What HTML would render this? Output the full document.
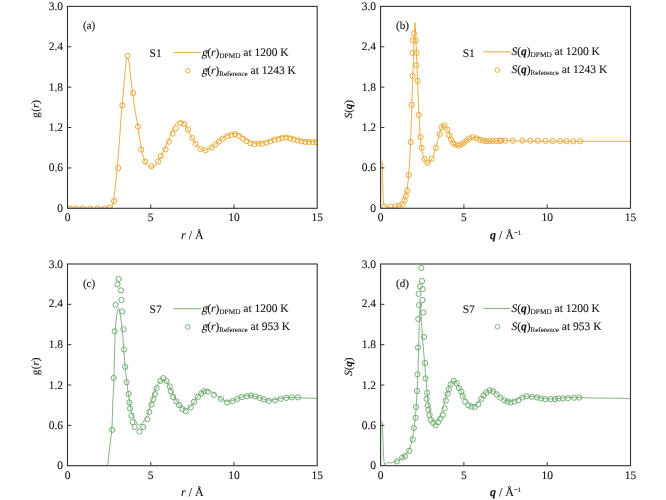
<!DOCTYPE html><html><head><meta charset="utf-8"><style>html,body{margin:0;padding:0;background:#fff;}svg{display:block;}text{font-family:"Liberation Serif",serif;fill:#111;text-rendering:geometricPrecision;stroke:#111;stroke-width:0.1px;}</style></head><body>
<svg width="666" height="500" viewBox="0 0 666 500">
<rect width="666" height="500" fill="#fff"/>
<clipPath id="cla"><rect x="67.5" y="6.4" width="249.7" height="201.9"/></clipPath>
<g clip-path="url(#cla)">
<polyline points="67.5,208.0 111.5,208.0 112.5,206.5 113.6,201.0 115.5,185.0 117.2,168.0 118.6,152.0 119.8,136.0 121.0,118.0 122.4,103.0 124.0,84.0 125.5,67.0 126.5,60.0 127.3,57.5 128.2,58.5 129.2,63.0 130.2,72.0 131.3,82.0 132.6,93.0 135.0,110.0 137.5,124.0 139.5,138.0 141.2,148.0 143.5,157.5 146.0,163.5 149.0,166.5 152.0,167.2 155.0,166.0 158.0,162.0 161.0,156.0 164.0,150.5 167.0,144.0 170.0,136.5 172.5,130.0 175.0,125.0 177.5,122.0 180.0,121.0 182.5,121.8 185.0,124.5 188.0,130.0 191.0,136.0 194.0,141.5 197.0,145.5 200.0,148.5 203.0,150.0 206.0,150.0 209.0,149.0 212.0,147.0 216.0,143.5 220.0,140.0 224.0,137.0 228.0,135.0 232.0,133.5 235.0,133.3 238.0,134.0 242.0,136.3 246.0,139.3 250.0,141.8 254.0,143.0 258.0,143.3 262.0,143.0 266.0,142.0 270.0,140.5 274.0,139.0 278.0,137.8 282.0,136.8 286.0,136.3 290.0,136.8 294.0,138.0 298.0,139.3 302.0,140.3 306.0,141.0 310.0,141.2 317.2,141.3" fill="none" stroke="#ebb04a" stroke-width="1.0" stroke-linejoin="round"/>
<circle cx="70.0" cy="208.4" r="2.6" fill="none" stroke="#eca936" stroke-width="1"/>
<circle cx="76.0" cy="208.4" r="2.6" fill="none" stroke="#eca936" stroke-width="1"/>
<circle cx="82.8" cy="208.4" r="2.6" fill="none" stroke="#eca936" stroke-width="1"/>
<circle cx="90.2" cy="208.4" r="2.6" fill="none" stroke="#eca936" stroke-width="1"/>
<circle cx="97.8" cy="208.4" r="2.6" fill="none" stroke="#eca936" stroke-width="1"/>
<circle cx="104.6" cy="208.4" r="2.6" fill="none" stroke="#eca936" stroke-width="1"/>
<circle cx="109.8" cy="207.6" r="2.6" fill="none" stroke="#eca936" stroke-width="1"/>
<circle cx="114.0" cy="201.0" r="2.6" fill="none" stroke="#eca936" stroke-width="1"/>
<circle cx="118.2" cy="168.0" r="2.6" fill="none" stroke="#eca936" stroke-width="1"/>
<circle cx="122.4" cy="105.4" r="2.6" fill="none" stroke="#eca936" stroke-width="1"/>
<circle cx="127.6" cy="55.8" r="2.6" fill="none" stroke="#eca936" stroke-width="1"/>
<circle cx="133.2" cy="93.0" r="2.6" fill="none" stroke="#eca936" stroke-width="1"/>
<circle cx="137.9" cy="126.6" r="2.6" fill="none" stroke="#eca936" stroke-width="1"/>
<circle cx="141.2" cy="149.6" r="2.6" fill="none" stroke="#eca936" stroke-width="1"/>
<circle cx="145.1" cy="161.6" r="2.6" fill="none" stroke="#eca936" stroke-width="1"/>
<circle cx="151.3" cy="166.2" r="2.6" fill="none" stroke="#eca936" stroke-width="1"/>
<circle cx="158.1" cy="161.6" r="2.6" fill="none" stroke="#eca936" stroke-width="1"/>
<circle cx="160.9" cy="156.1" r="2.6" fill="none" stroke="#eca936" stroke-width="1"/>
<circle cx="165.5" cy="149.3" r="2.6" fill="none" stroke="#eca936" stroke-width="1"/>
<circle cx="169.0" cy="141.7" r="2.6" fill="none" stroke="#eca936" stroke-width="1"/>
<circle cx="172.6" cy="133.6" r="2.6" fill="none" stroke="#eca936" stroke-width="1"/>
<circle cx="175.8" cy="128.2" r="2.6" fill="none" stroke="#eca936" stroke-width="1"/>
<circle cx="180.7" cy="123.2" r="2.6" fill="none" stroke="#eca936" stroke-width="1"/>
<circle cx="184.3" cy="124.1" r="2.6" fill="none" stroke="#eca936" stroke-width="1"/>
<circle cx="187.9" cy="129.5" r="2.6" fill="none" stroke="#eca936" stroke-width="1"/>
<circle cx="192.4" cy="138.1" r="2.6" fill="none" stroke="#eca936" stroke-width="1"/>
<circle cx="195.6" cy="143.9" r="2.6" fill="none" stroke="#eca936" stroke-width="1"/>
<circle cx="200.5" cy="148.9" r="2.6" fill="none" stroke="#eca936" stroke-width="1"/>
<circle cx="205.5" cy="150.3" r="2.6" fill="none" stroke="#eca936" stroke-width="1"/>
<circle cx="211.8" cy="147.4" r="2.6" fill="none" stroke="#eca936" stroke-width="1"/>
<circle cx="215.3" cy="144.4" r="2.6" fill="none" stroke="#eca936" stroke-width="1"/>
<circle cx="219.0" cy="141.5" r="2.6" fill="none" stroke="#eca936" stroke-width="1"/>
<circle cx="222.8" cy="138.6" r="2.6" fill="none" stroke="#eca936" stroke-width="1"/>
<circle cx="227.3" cy="136.2" r="2.6" fill="none" stroke="#eca936" stroke-width="1"/>
<circle cx="231.4" cy="134.9" r="2.6" fill="none" stroke="#eca936" stroke-width="1"/>
<circle cx="235.1" cy="134.1" r="2.6" fill="none" stroke="#eca936" stroke-width="1"/>
<circle cx="238.9" cy="135.8" r="2.6" fill="none" stroke="#eca936" stroke-width="1"/>
<circle cx="243.0" cy="138.6" r="2.6" fill="none" stroke="#eca936" stroke-width="1"/>
<circle cx="246.7" cy="141.1" r="2.6" fill="none" stroke="#eca936" stroke-width="1"/>
<circle cx="250.4" cy="143.2" r="2.6" fill="none" stroke="#eca936" stroke-width="1"/>
<circle cx="254.5" cy="144.0" r="2.6" fill="none" stroke="#eca936" stroke-width="1"/>
<circle cx="258.5" cy="143.5" r="2.6" fill="none" stroke="#eca936" stroke-width="1"/>
<circle cx="262.1" cy="143.7" r="2.6" fill="none" stroke="#eca936" stroke-width="1"/>
<circle cx="266.4" cy="142.7" r="2.6" fill="none" stroke="#eca936" stroke-width="1"/>
<circle cx="270.6" cy="141.3" r="2.6" fill="none" stroke="#eca936" stroke-width="1"/>
<circle cx="274.4" cy="139.9" r="2.6" fill="none" stroke="#eca936" stroke-width="1"/>
<circle cx="278.7" cy="138.9" r="2.6" fill="none" stroke="#eca936" stroke-width="1"/>
<circle cx="282.4" cy="138.0" r="2.6" fill="none" stroke="#eca936" stroke-width="1"/>
<circle cx="286.2" cy="137.5" r="2.6" fill="none" stroke="#eca936" stroke-width="1"/>
<circle cx="290.0" cy="138.4" r="2.6" fill="none" stroke="#eca936" stroke-width="1"/>
<circle cx="293.8" cy="139.4" r="2.6" fill="none" stroke="#eca936" stroke-width="1"/>
<circle cx="297.6" cy="140.3" r="2.6" fill="none" stroke="#eca936" stroke-width="1"/>
<circle cx="301.4" cy="141.3" r="2.6" fill="none" stroke="#eca936" stroke-width="1"/>
<circle cx="305.1" cy="141.8" r="2.6" fill="none" stroke="#eca936" stroke-width="1"/>
<circle cx="308.9" cy="142.0" r="2.6" fill="none" stroke="#eca936" stroke-width="1"/>
<circle cx="312.7" cy="142.1" r="2.6" fill="none" stroke="#eca936" stroke-width="1"/>
<circle cx="316.2" cy="142.1" r="2.6" fill="none" stroke="#eca936" stroke-width="1"/>
</g>
<rect x="67.5" y="6.4" width="249.7" height="201.9" fill="none" stroke="#333" stroke-width="1.1"/>
<line x1="67.5" y1="167.92" x2="71.3" y2="167.92" stroke="#333" stroke-width="1"/>
<line x1="67.5" y1="127.54" x2="71.3" y2="127.54" stroke="#333" stroke-width="1"/>
<line x1="67.5" y1="87.16" x2="71.3" y2="87.16" stroke="#333" stroke-width="1"/>
<line x1="67.5" y1="46.78" x2="71.3" y2="46.78" stroke="#333" stroke-width="1"/>
<line x1="150.73" y1="208.3" x2="150.73" y2="204.5" stroke="#333" stroke-width="1"/>
<line x1="233.97" y1="208.3" x2="233.97" y2="204.5" stroke="#333" stroke-width="1"/>
<text x="63.0" y="211.8" font-size="11.5" text-anchor="end">0</text>
<text x="63.0" y="171.1" font-size="11.5" text-anchor="end">0.6</text>
<text x="63.0" y="131.0" font-size="11.5" text-anchor="end">1.2</text>
<text x="63.0" y="90.5" font-size="11.5" text-anchor="end">1.8</text>
<text x="63.0" y="49.8" font-size="11.5" text-anchor="end">2.4</text>
<text x="63.0" y="10.0" font-size="11.5" text-anchor="end">3.0</text>
<text x="67.5" y="221.1" font-size="11.5" text-anchor="middle">0</text>
<text x="150.7" y="221.1" font-size="11.5" text-anchor="middle">5</text>
<text x="234.0" y="221.1" font-size="11.5" text-anchor="middle">10</text>
<text x="317.2" y="221.1" font-size="11.5" text-anchor="middle">15</text>
<text x="192.3" y="239.4" font-size="12.0" text-anchor="middle"><tspan font-style="italic">r</tspan> / Å</text>
<g transform="translate(39.4,108.7) rotate(-90)"><text transform="translate(-9.0,0)" font-size="11">g</text><text x="-3.05" y="0" font-size="11">(<tspan font-style="italic">r</tspan>)</text></g>
<text x="82.9" y="29.4" font-size="11.2">(a)</text>
<text x="149.6" y="57.2" font-size="11.5">S1</text>
<line x1="173.6" y1="52.5" x2="200.9" y2="52.5" stroke="#ebb04a" stroke-width="1.1"/>
<circle cx="187.7" cy="70.8" r="2.3" fill="none" stroke="#eca936" stroke-width="0.9"/>
<text transform="translate(201.40,55.90) skewX(-14)" font-size="11.5">g</text>
<text x="207.15" y="55.90" font-size="11.5">(<tspan font-style="italic">r</tspan>)<tspan font-size="7.3" dy="2">DPMD</tspan><tspan dy="-2"> at 1200 K</tspan></text>
<text transform="translate(201.40,73.80) skewX(-14)" font-size="11.5">g</text>
<text x="207.15" y="73.80" font-size="11.5">(<tspan font-style="italic">r</tspan>)<tspan font-size="7" dy="2">Reference</tspan><tspan dy="-2"> at 1243 K</tspan></text>
<clipPath id="clb"><rect x="380.6" y="6.4" width="249.89999999999998" height="201.9"/></clipPath>
<g clip-path="url(#clb)">
<polyline points="382.3,161.0 382.6,175.0 383.0,195.0 383.6,204.0 385.0,206.8 388.0,207.3 392.0,207.3 396.0,207.0 399.0,206.3 402.0,204.5 404.0,201.5 405.5,197.0 407.0,190.5 408.3,180.0 409.5,163.0 410.5,145.0 411.5,115.0 412.5,85.0 413.5,55.0 414.3,35.0 415.0,22.6 415.8,35.0 416.5,55.0 417.5,80.0 418.8,110.0 420.0,135.0 421.5,148.0 423.0,155.5 425.0,161.0 427.5,163.5 430.0,162.0 432.5,157.5 435.0,150.5 437.5,141.5 440.0,132.0 442.0,126.5 444.0,125.0 446.0,126.5 448.0,131.0 450.0,137.0 452.0,141.5 454.0,144.5 456.5,145.8 459.0,145.8 462.0,144.5 465.0,142.3 468.0,140.0 471.0,138.0 474.0,137.0 477.0,137.5 480.0,139.0 483.0,140.3 486.0,141.0 490.0,141.3 494.0,141.0 498.0,141.1 503.0,140.7 510.0,140.7 520.0,141.0 530.0,141.1 545.0,141.3 630.5,141.3" fill="none" stroke="#ebb04a" stroke-width="1.0" stroke-linejoin="round"/>
<circle cx="384.6" cy="206.4" r="2.6" fill="none" stroke="#eca936" stroke-width="1"/>
<circle cx="390.8" cy="206.4" r="2.6" fill="none" stroke="#eca936" stroke-width="1"/>
<circle cx="395.5" cy="206.3" r="2.6" fill="none" stroke="#eca936" stroke-width="1"/>
<circle cx="399.0" cy="205.8" r="2.6" fill="none" stroke="#eca936" stroke-width="1"/>
<circle cx="402.3" cy="204.2" r="2.6" fill="none" stroke="#eca936" stroke-width="1"/>
<circle cx="404.4" cy="200.5" r="2.6" fill="none" stroke="#eca936" stroke-width="1"/>
<circle cx="405.8" cy="196.0" r="2.6" fill="none" stroke="#eca936" stroke-width="1"/>
<circle cx="407.2" cy="190.5" r="2.6" fill="none" stroke="#eca936" stroke-width="1"/>
<circle cx="408.8" cy="175.0" r="2.6" fill="none" stroke="#eca936" stroke-width="1"/>
<circle cx="410.7" cy="142.1" r="2.6" fill="none" stroke="#eca936" stroke-width="1"/>
<circle cx="411.6" cy="104.8" r="2.6" fill="none" stroke="#eca936" stroke-width="1"/>
<circle cx="412.6" cy="76.0" r="2.6" fill="none" stroke="#eca936" stroke-width="1"/>
<circle cx="412.4" cy="52.9" r="2.6" fill="none" stroke="#eca936" stroke-width="1"/>
<circle cx="412.8" cy="40.5" r="2.6" fill="none" stroke="#eca936" stroke-width="1"/>
<circle cx="413.9" cy="33.5" r="2.6" fill="none" stroke="#eca936" stroke-width="1"/>
<circle cx="415.8" cy="40.5" r="2.6" fill="none" stroke="#eca936" stroke-width="1"/>
<circle cx="416.6" cy="52.9" r="2.6" fill="none" stroke="#eca936" stroke-width="1"/>
<circle cx="416.4" cy="65.2" r="2.6" fill="none" stroke="#eca936" stroke-width="1"/>
<circle cx="417.4" cy="80.8" r="2.6" fill="none" stroke="#eca936" stroke-width="1"/>
<circle cx="418.7" cy="115.0" r="2.6" fill="none" stroke="#eca936" stroke-width="1"/>
<circle cx="420.4" cy="137.0" r="2.6" fill="none" stroke="#eca936" stroke-width="1"/>
<circle cx="421.6" cy="147.8" r="2.6" fill="none" stroke="#eca936" stroke-width="1"/>
<circle cx="424.6" cy="159.2" r="2.6" fill="none" stroke="#eca936" stroke-width="1"/>
<circle cx="427.6" cy="162.8" r="2.6" fill="none" stroke="#eca936" stroke-width="1"/>
<circle cx="431.8" cy="158.6" r="2.6" fill="none" stroke="#eca936" stroke-width="1"/>
<circle cx="436.0" cy="147.8" r="2.6" fill="none" stroke="#eca936" stroke-width="1"/>
<circle cx="439.6" cy="134.0" r="2.6" fill="none" stroke="#eca936" stroke-width="1"/>
<circle cx="441.4" cy="127.4" r="2.6" fill="none" stroke="#eca936" stroke-width="1"/>
<circle cx="444.4" cy="125.6" r="2.6" fill="none" stroke="#eca936" stroke-width="1"/>
<circle cx="447.4" cy="129.8" r="2.6" fill="none" stroke="#eca936" stroke-width="1"/>
<circle cx="449.2" cy="135.2" r="2.6" fill="none" stroke="#eca936" stroke-width="1"/>
<circle cx="451.2" cy="139.8" r="2.6" fill="none" stroke="#eca936" stroke-width="1"/>
<circle cx="453.3" cy="143.1" r="2.6" fill="none" stroke="#eca936" stroke-width="1"/>
<circle cx="455.7" cy="144.8" r="2.6" fill="none" stroke="#eca936" stroke-width="1"/>
<circle cx="458.6" cy="145.6" r="2.6" fill="none" stroke="#eca936" stroke-width="1"/>
<circle cx="461.5" cy="144.4" r="2.6" fill="none" stroke="#eca936" stroke-width="1"/>
<circle cx="464.0" cy="142.7" r="2.6" fill="none" stroke="#eca936" stroke-width="1"/>
<circle cx="466.5" cy="140.6" r="2.6" fill="none" stroke="#eca936" stroke-width="1"/>
<circle cx="469.3" cy="138.5" r="2.6" fill="none" stroke="#eca936" stroke-width="1"/>
<circle cx="472.7" cy="137.2" r="2.6" fill="none" stroke="#eca936" stroke-width="1"/>
<circle cx="476.8" cy="138.4" r="2.6" fill="none" stroke="#eca936" stroke-width="1"/>
<circle cx="479.9" cy="139.7" r="2.6" fill="none" stroke="#eca936" stroke-width="1"/>
<circle cx="483.1" cy="140.6" r="2.6" fill="none" stroke="#eca936" stroke-width="1"/>
<circle cx="486.2" cy="141.1" r="2.6" fill="none" stroke="#eca936" stroke-width="1"/>
<circle cx="489.4" cy="141.1" r="2.6" fill="none" stroke="#eca936" stroke-width="1"/>
<circle cx="492.5" cy="140.8" r="2.6" fill="none" stroke="#eca936" stroke-width="1"/>
<circle cx="496.1" cy="141.1" r="2.6" fill="none" stroke="#eca936" stroke-width="1"/>
<circle cx="499.7" cy="140.7" r="2.6" fill="none" stroke="#eca936" stroke-width="1"/>
<circle cx="501.2" cy="140.7" r="2.6" fill="none" stroke="#eca936" stroke-width="1"/>
<circle cx="505.4" cy="140.6" r="2.6" fill="none" stroke="#eca936" stroke-width="1"/>
<circle cx="512.9" cy="140.6" r="2.6" fill="none" stroke="#eca936" stroke-width="1"/>
<circle cx="522.5" cy="140.7" r="2.6" fill="none" stroke="#eca936" stroke-width="1"/>
<circle cx="530.3" cy="140.7" r="2.6" fill="none" stroke="#eca936" stroke-width="1"/>
<circle cx="537.8" cy="140.8" r="2.6" fill="none" stroke="#eca936" stroke-width="1"/>
<circle cx="545.5" cy="140.9" r="2.6" fill="none" stroke="#eca936" stroke-width="1"/>
<circle cx="552.8" cy="141.0" r="2.6" fill="none" stroke="#eca936" stroke-width="1"/>
<circle cx="560.2" cy="141.1" r="2.6" fill="none" stroke="#eca936" stroke-width="1"/>
<circle cx="566.6" cy="141.2" r="2.6" fill="none" stroke="#eca936" stroke-width="1"/>
<circle cx="573.3" cy="141.3" r="2.6" fill="none" stroke="#eca936" stroke-width="1"/>
<circle cx="580.2" cy="141.3" r="2.6" fill="none" stroke="#eca936" stroke-width="1"/>
</g>
<rect x="380.6" y="6.4" width="249.9" height="201.9" fill="none" stroke="#333" stroke-width="1.1"/>
<line x1="380.6" y1="167.92" x2="384.40000000000003" y2="167.92" stroke="#333" stroke-width="1"/>
<line x1="380.6" y1="127.54" x2="384.40000000000003" y2="127.54" stroke="#333" stroke-width="1"/>
<line x1="380.6" y1="87.16" x2="384.40000000000003" y2="87.16" stroke="#333" stroke-width="1"/>
<line x1="380.6" y1="46.78" x2="384.40000000000003" y2="46.78" stroke="#333" stroke-width="1"/>
<line x1="463.90" y1="208.3" x2="463.90" y2="204.5" stroke="#333" stroke-width="1"/>
<line x1="547.20" y1="208.3" x2="547.20" y2="204.5" stroke="#333" stroke-width="1"/>
<text x="376.1" y="211.8" font-size="11.5" text-anchor="end">0</text>
<text x="376.1" y="171.1" font-size="11.5" text-anchor="end">0.6</text>
<text x="376.1" y="131.0" font-size="11.5" text-anchor="end">1.2</text>
<text x="376.1" y="90.5" font-size="11.5" text-anchor="end">1.8</text>
<text x="376.1" y="49.8" font-size="11.5" text-anchor="end">2.4</text>
<text x="376.1" y="10.0" font-size="11.5" text-anchor="end">3.0</text>
<text x="380.6" y="221.1" font-size="11.5" text-anchor="middle">0</text>
<text x="463.9" y="221.1" font-size="11.5" text-anchor="middle">5</text>
<text x="547.2" y="221.1" font-size="11.5" text-anchor="middle">10</text>
<text x="630.5" y="221.1" font-size="11.5" text-anchor="middle">15</text>
<text x="505.6" y="239.4" font-size="12.0" text-anchor="middle"><tspan font-style="italic" font-weight="bold">q</tspan> / Å<tspan font-size="6.8" dy="-4.3">−1</tspan></text>
<text transform="translate(352.3,109.2) rotate(-90)" font-size="11" text-anchor="middle"><tspan font-style="italic">S</tspan>(<tspan font-style="italic" font-weight="bold">q</tspan>)</text>
<text x="396.0" y="29.4" font-size="11.2">(b)</text>
<text x="462.7" y="56.5" font-size="11.5">S1</text>
<line x1="483.3" y1="51.8" x2="510.6" y2="51.8" stroke="#ebb04a" stroke-width="1.1"/>
<circle cx="497.4" cy="70.1" r="2.3" fill="none" stroke="#eca936" stroke-width="0.9"/>
<text x="511.40" y="55.20" font-size="11.5"><tspan font-style="italic">S</tspan>(<tspan font-style="italic" font-weight="bold">q</tspan>)<tspan font-size="7.3" dy="2">DPMD</tspan><tspan dy="-2"> at 1200 K</tspan></text>
<text x="511.40" y="73.10" font-size="11.5"><tspan font-style="italic">S</tspan>(<tspan font-style="italic" font-weight="bold">q</tspan>)<tspan font-size="7" dy="2">Reference</tspan><tspan dy="-2"> at 1243 K</tspan></text>
<clipPath id="clc"><rect x="67.5" y="264.0" width="249.7" height="201.7"/></clipPath>
<g clip-path="url(#clc)">
<polyline points="67.5,465.7 106.5,465.7 108.0,464.0 108.8,455.0 110.0,445.0 111.2,435.0 112.1,425.0 112.9,400.0 113.8,385.0 114.6,350.0 115.2,331.0 116.2,319.0 117.4,311.5 118.6,307.8 119.8,312.0 120.9,319.0 121.9,327.0 122.8,335.0 123.8,350.0 125.0,365.0 126.3,378.0 127.8,390.0 129.2,400.0 130.5,407.5 132.0,413.0 133.5,417.0 135.5,420.8 137.5,424.2 139.7,425.2 142.0,423.6 144.5,420.0 146.5,417.0 148.5,412.0 150.5,405.0 152.5,398.0 154.5,392.0 156.5,387.0 158.5,383.5 160.5,381.0 162.5,379.8 164.5,380.0 166.5,381.5 168.5,384.5 170.5,388.5 172.5,393.0 175.0,398.0 177.5,402.5 180.0,406.0 183.0,408.5 186.0,409.3 189.0,408.0 192.0,405.0 195.0,400.5 198.0,396.0 201.0,392.5 204.0,390.5 207.0,390.0 210.0,391.0 214.0,393.5 218.0,396.5 222.0,399.5 226.0,401.3 230.0,401.3 234.0,400.0 238.0,398.3 242.0,396.8 246.0,395.8 250.0,395.5 254.0,396.0 258.0,397.3 262.0,398.7 266.0,399.8 270.0,400.2 274.0,399.8 278.0,399.0 282.0,398.2 286.0,397.6 292.0,397.4 298.0,397.6 305.0,398.0 317.2,398.4" fill="none" stroke="#84b884" stroke-width="1.0" stroke-linejoin="round"/>
<circle cx="118.6" cy="279.0" r="2.6" fill="none" stroke="#70ae70" stroke-width="1"/>
<circle cx="117.4" cy="284.4" r="2.6" fill="none" stroke="#70ae70" stroke-width="1"/>
<circle cx="121.0" cy="290.4" r="2.6" fill="none" stroke="#70ae70" stroke-width="1"/>
<circle cx="121.4" cy="300.0" r="2.6" fill="none" stroke="#70ae70" stroke-width="1"/>
<circle cx="115.6" cy="304.8" r="2.6" fill="none" stroke="#70ae70" stroke-width="1"/>
<circle cx="122.2" cy="311.4" r="2.6" fill="none" stroke="#70ae70" stroke-width="1"/>
<circle cx="123.5" cy="329.2" r="2.6" fill="none" stroke="#70ae70" stroke-width="1"/>
<circle cx="114.7" cy="331.3" r="2.6" fill="none" stroke="#70ae70" stroke-width="1"/>
<circle cx="124.1" cy="349.5" r="2.6" fill="none" stroke="#70ae70" stroke-width="1"/>
<circle cx="125.2" cy="367.0" r="2.6" fill="none" stroke="#70ae70" stroke-width="1"/>
<circle cx="113.7" cy="377.9" r="2.6" fill="none" stroke="#70ae70" stroke-width="1"/>
<circle cx="126.6" cy="382.3" r="2.6" fill="none" stroke="#70ae70" stroke-width="1"/>
<circle cx="128.6" cy="394.0" r="2.6" fill="none" stroke="#70ae70" stroke-width="1"/>
<circle cx="112.1" cy="429.9" r="2.6" fill="none" stroke="#70ae70" stroke-width="1"/>
<circle cx="129.4" cy="402.4" r="2.6" fill="none" stroke="#70ae70" stroke-width="1"/>
<circle cx="130.0" cy="408.5" r="2.6" fill="none" stroke="#70ae70" stroke-width="1"/>
<circle cx="131.4" cy="415.6" r="2.6" fill="none" stroke="#70ae70" stroke-width="1"/>
<circle cx="132.5" cy="422.0" r="2.6" fill="none" stroke="#70ae70" stroke-width="1"/>
<circle cx="134.7" cy="427.0" r="2.6" fill="none" stroke="#70ae70" stroke-width="1"/>
<circle cx="139.5" cy="431.5" r="2.6" fill="none" stroke="#70ae70" stroke-width="1"/>
<circle cx="143.1" cy="427.0" r="2.6" fill="none" stroke="#70ae70" stroke-width="1"/>
<circle cx="147.3" cy="419.2" r="2.6" fill="none" stroke="#70ae70" stroke-width="1"/>
<circle cx="149.3" cy="411.9" r="2.6" fill="none" stroke="#70ae70" stroke-width="1"/>
<circle cx="151.5" cy="404.5" r="2.6" fill="none" stroke="#70ae70" stroke-width="1"/>
<circle cx="153.2" cy="399.3" r="2.6" fill="none" stroke="#70ae70" stroke-width="1"/>
<circle cx="154.9" cy="394.1" r="2.6" fill="none" stroke="#70ae70" stroke-width="1"/>
<circle cx="156.6" cy="388.1" r="2.6" fill="none" stroke="#70ae70" stroke-width="1"/>
<circle cx="160.4" cy="380.9" r="2.6" fill="none" stroke="#70ae70" stroke-width="1"/>
<circle cx="163.2" cy="378.2" r="2.6" fill="none" stroke="#70ae70" stroke-width="1"/>
<circle cx="166.5" cy="380.9" r="2.6" fill="none" stroke="#70ae70" stroke-width="1"/>
<circle cx="169.8" cy="386.4" r="2.6" fill="none" stroke="#70ae70" stroke-width="1"/>
<circle cx="170.9" cy="391.4" r="2.6" fill="none" stroke="#70ae70" stroke-width="1"/>
<circle cx="173.1" cy="396.9" r="2.6" fill="none" stroke="#70ae70" stroke-width="1"/>
<circle cx="176.4" cy="401.3" r="2.6" fill="none" stroke="#70ae70" stroke-width="1"/>
<circle cx="179.1" cy="405.1" r="2.6" fill="none" stroke="#70ae70" stroke-width="1"/>
<circle cx="182.4" cy="409.0" r="2.6" fill="none" stroke="#70ae70" stroke-width="1"/>
<circle cx="185.7" cy="411.2" r="2.6" fill="none" stroke="#70ae70" stroke-width="1"/>
<circle cx="190.7" cy="407.3" r="2.6" fill="none" stroke="#70ae70" stroke-width="1"/>
<circle cx="194.0" cy="401.8" r="2.6" fill="none" stroke="#70ae70" stroke-width="1"/>
<circle cx="197.8" cy="396.9" r="2.6" fill="none" stroke="#70ae70" stroke-width="1"/>
<circle cx="201.3" cy="393.5" r="2.6" fill="none" stroke="#70ae70" stroke-width="1"/>
<circle cx="204.0" cy="391.2" r="2.6" fill="none" stroke="#70ae70" stroke-width="1"/>
<circle cx="207.6" cy="391.7" r="2.6" fill="none" stroke="#70ae70" stroke-width="1"/>
<circle cx="213.9" cy="394.8" r="2.6" fill="none" stroke="#70ae70" stroke-width="1"/>
<circle cx="221.1" cy="398.9" r="2.6" fill="none" stroke="#70ae70" stroke-width="1"/>
<circle cx="227.0" cy="402.5" r="2.6" fill="none" stroke="#70ae70" stroke-width="1"/>
<circle cx="232.4" cy="401.1" r="2.6" fill="none" stroke="#70ae70" stroke-width="1"/>
<circle cx="237.3" cy="398.9" r="2.6" fill="none" stroke="#70ae70" stroke-width="1"/>
<circle cx="241.8" cy="397.1" r="2.6" fill="none" stroke="#70ae70" stroke-width="1"/>
<circle cx="246.8" cy="396.2" r="2.6" fill="none" stroke="#70ae70" stroke-width="1"/>
<circle cx="251.0" cy="395.5" r="2.6" fill="none" stroke="#70ae70" stroke-width="1"/>
<circle cx="255.1" cy="396.3" r="2.6" fill="none" stroke="#70ae70" stroke-width="1"/>
<circle cx="259.7" cy="397.9" r="2.6" fill="none" stroke="#70ae70" stroke-width="1"/>
<circle cx="263.8" cy="399.4" r="2.6" fill="none" stroke="#70ae70" stroke-width="1"/>
<circle cx="268.9" cy="400.9" r="2.6" fill="none" stroke="#70ae70" stroke-width="1"/>
<circle cx="275.0" cy="400.4" r="2.6" fill="none" stroke="#70ae70" stroke-width="1"/>
<circle cx="280.6" cy="398.9" r="2.6" fill="none" stroke="#70ae70" stroke-width="1"/>
<circle cx="286.3" cy="397.9" r="2.6" fill="none" stroke="#70ae70" stroke-width="1"/>
<circle cx="291.9" cy="397.4" r="2.6" fill="none" stroke="#70ae70" stroke-width="1"/>
<circle cx="298.0" cy="397.4" r="2.6" fill="none" stroke="#70ae70" stroke-width="1"/>
</g>
<rect x="67.5" y="264.0" width="249.7" height="201.7" fill="none" stroke="#333" stroke-width="1.1"/>
<line x1="67.5" y1="425.36" x2="71.3" y2="425.36" stroke="#333" stroke-width="1"/>
<line x1="67.5" y1="385.02" x2="71.3" y2="385.02" stroke="#333" stroke-width="1"/>
<line x1="67.5" y1="344.68" x2="71.3" y2="344.68" stroke="#333" stroke-width="1"/>
<line x1="67.5" y1="304.34" x2="71.3" y2="304.34" stroke="#333" stroke-width="1"/>
<line x1="150.73" y1="465.7" x2="150.73" y2="461.9" stroke="#333" stroke-width="1"/>
<line x1="233.97" y1="465.7" x2="233.97" y2="461.9" stroke="#333" stroke-width="1"/>
<text x="63.0" y="469.2" font-size="11.5" text-anchor="end">0</text>
<text x="63.0" y="428.6" font-size="11.5" text-anchor="end">0.6</text>
<text x="63.0" y="388.5" font-size="11.5" text-anchor="end">1.2</text>
<text x="63.0" y="348.0" font-size="11.5" text-anchor="end">1.8</text>
<text x="63.0" y="307.3" font-size="11.5" text-anchor="end">2.4</text>
<text x="63.0" y="267.6" font-size="11.5" text-anchor="end">3.0</text>
<text x="67.5" y="478.5" font-size="11.5" text-anchor="middle">0</text>
<text x="150.7" y="478.5" font-size="11.5" text-anchor="middle">5</text>
<text x="234.0" y="478.5" font-size="11.5" text-anchor="middle">10</text>
<text x="317.2" y="478.5" font-size="11.5" text-anchor="middle">15</text>
<text x="192.3" y="496.0" font-size="12.0" text-anchor="middle"><tspan font-style="italic">r</tspan> / Å</text>
<g transform="translate(39.4,366.2) rotate(-90)"><text transform="translate(-9.0,0)" font-size="11">g</text><text x="-3.05" y="0" font-size="11">(<tspan font-style="italic">r</tspan>)</text></g>
<text x="82.9" y="287.0" font-size="11.2">(c)</text>
<text x="149.6" y="313.4" font-size="11.5">S7</text>
<line x1="173.6" y1="308.7" x2="200.9" y2="308.7" stroke="#84b884" stroke-width="1.1"/>
<circle cx="187.7" cy="327.0" r="2.3" fill="none" stroke="#70ae70" stroke-width="0.9"/>
<text transform="translate(201.40,312.10) skewX(-14)" font-size="11.5">g</text>
<text x="207.15" y="312.10" font-size="11.5">(<tspan font-style="italic">r</tspan>)<tspan font-size="7.3" dy="2">DPMD</tspan><tspan dy="-2"> at 1200 K</tspan></text>
<text transform="translate(201.40,330.00) skewX(-14)" font-size="11.5">g</text>
<text x="207.15" y="330.00" font-size="11.5">(<tspan font-style="italic">r</tspan>)<tspan font-size="7" dy="2">Reference</tspan><tspan dy="-2"> at 953 K</tspan></text>
<clipPath id="cld"><rect x="380.6" y="264.0" width="249.89999999999998" height="201.7"/></clipPath>
<g clip-path="url(#cld)">
<polyline points="382.2,421.4 382.8,435.0 383.3,450.0 383.8,460.0 384.5,464.8 386.2,463.6 387.8,462.2 390.6,463.2 393.0,462.2 396.0,461.5 400.0,459.5 404.0,456.5 407.0,453.0 409.5,449.0 411.5,443.0 413.0,435.0 414.2,427.0 415.3,418.0 416.3,405.0 417.2,390.0 418.0,370.0 418.7,345.0 419.3,320.0 420.3,302.5 421.3,320.0 422.3,335.0 423.5,350.0 424.8,365.0 426.0,380.0 427.3,395.0 428.5,405.0 430.0,413.0 431.5,418.5 433.5,421.5 435.5,422.0 437.5,420.5 439.5,417.5 441.5,413.0 443.5,406.5 445.5,399.0 447.5,392.0 449.5,386.0 451.5,382.3 453.5,381.0 455.5,381.8 457.5,384.5 459.5,388.0 461.5,392.0 463.5,396.0 466.0,400.5 468.5,403.5 471.5,405.3 474.5,405.5 477.5,403.5 480.5,399.5 483.5,395.5 486.5,392.0 489.5,390.2 492.5,390.5 495.5,392.5 498.5,395.3 501.5,398.0 504.5,400.0 507.5,401.0 510.5,401.3 514.0,400.5 518.0,399.0 522.0,397.2 526.5,396.2 531.0,396.3 536.0,397.0 541.0,398.0 546.0,398.8 551.0,399.0 556.0,398.8 561.0,398.3 567.0,397.7 574.0,397.3 580.0,397.5 590.0,398.0 630.5,398.4" fill="none" stroke="#84b884" stroke-width="1.0" stroke-linejoin="round"/>
<circle cx="397.0" cy="461.4" r="2.6" fill="none" stroke="#70ae70" stroke-width="1"/>
<circle cx="402.2" cy="457.5" r="2.6" fill="none" stroke="#70ae70" stroke-width="1"/>
<circle cx="405.0" cy="456.2" r="2.6" fill="none" stroke="#70ae70" stroke-width="1"/>
<circle cx="409.2" cy="450.8" r="2.6" fill="none" stroke="#70ae70" stroke-width="1"/>
<circle cx="412.8" cy="439.4" r="2.6" fill="none" stroke="#70ae70" stroke-width="1"/>
<circle cx="413.8" cy="428.0" r="2.6" fill="none" stroke="#70ae70" stroke-width="1"/>
<circle cx="415.5" cy="417.8" r="2.6" fill="none" stroke="#70ae70" stroke-width="1"/>
<circle cx="416.0" cy="407.0" r="2.6" fill="none" stroke="#70ae70" stroke-width="1"/>
<circle cx="417.0" cy="391.0" r="2.6" fill="none" stroke="#70ae70" stroke-width="1"/>
<circle cx="417.4" cy="374.4" r="2.6" fill="none" stroke="#70ae70" stroke-width="1"/>
<circle cx="418.0" cy="347.6" r="2.6" fill="none" stroke="#70ae70" stroke-width="1"/>
<circle cx="418.3" cy="319.0" r="2.6" fill="none" stroke="#70ae70" stroke-width="1"/>
<circle cx="419.2" cy="305.1" r="2.6" fill="none" stroke="#70ae70" stroke-width="1"/>
<circle cx="418.6" cy="293.9" r="2.6" fill="none" stroke="#70ae70" stroke-width="1"/>
<circle cx="419.9" cy="286.4" r="2.6" fill="none" stroke="#70ae70" stroke-width="1"/>
<circle cx="421.3" cy="268.1" r="2.6" fill="none" stroke="#70ae70" stroke-width="1"/>
<circle cx="422.0" cy="281.0" r="2.6" fill="none" stroke="#70ae70" stroke-width="1"/>
<circle cx="422.6" cy="289.1" r="2.6" fill="none" stroke="#70ae70" stroke-width="1"/>
<circle cx="422.4" cy="300.0" r="2.6" fill="none" stroke="#70ae70" stroke-width="1"/>
<circle cx="423.3" cy="312.5" r="2.6" fill="none" stroke="#70ae70" stroke-width="1"/>
<circle cx="424.0" cy="337.0" r="2.6" fill="none" stroke="#70ae70" stroke-width="1"/>
<circle cx="425.0" cy="363.0" r="2.6" fill="none" stroke="#70ae70" stroke-width="1"/>
<circle cx="425.4" cy="378.4" r="2.6" fill="none" stroke="#70ae70" stroke-width="1"/>
<circle cx="427.2" cy="392.8" r="2.6" fill="none" stroke="#70ae70" stroke-width="1"/>
<circle cx="426.6" cy="398.8" r="2.6" fill="none" stroke="#70ae70" stroke-width="1"/>
<circle cx="427.8" cy="405.4" r="2.6" fill="none" stroke="#70ae70" stroke-width="1"/>
<circle cx="428.4" cy="409.6" r="2.6" fill="none" stroke="#70ae70" stroke-width="1"/>
<circle cx="429.6" cy="415.0" r="2.6" fill="none" stroke="#70ae70" stroke-width="1"/>
<circle cx="430.8" cy="419.8" r="2.6" fill="none" stroke="#70ae70" stroke-width="1"/>
<circle cx="433.2" cy="422.8" r="2.6" fill="none" stroke="#70ae70" stroke-width="1"/>
<circle cx="435.6" cy="425.2" r="2.6" fill="none" stroke="#70ae70" stroke-width="1"/>
<circle cx="438.0" cy="422.2" r="2.6" fill="none" stroke="#70ae70" stroke-width="1"/>
<circle cx="440.4" cy="418.6" r="2.6" fill="none" stroke="#70ae70" stroke-width="1"/>
<circle cx="442.8" cy="415.0" r="2.6" fill="none" stroke="#70ae70" stroke-width="1"/>
<circle cx="444.6" cy="408.4" r="2.6" fill="none" stroke="#70ae70" stroke-width="1"/>
<circle cx="445.8" cy="400.6" r="2.6" fill="none" stroke="#70ae70" stroke-width="1"/>
<circle cx="447.6" cy="394.0" r="2.6" fill="none" stroke="#70ae70" stroke-width="1"/>
<circle cx="448.8" cy="389.2" r="2.6" fill="none" stroke="#70ae70" stroke-width="1"/>
<circle cx="450.6" cy="384.4" r="2.6" fill="none" stroke="#70ae70" stroke-width="1"/>
<circle cx="453.6" cy="380.8" r="2.6" fill="none" stroke="#70ae70" stroke-width="1"/>
<circle cx="456.6" cy="383.2" r="2.6" fill="none" stroke="#70ae70" stroke-width="1"/>
<circle cx="459.0" cy="388.0" r="2.6" fill="none" stroke="#70ae70" stroke-width="1"/>
<circle cx="461.4" cy="391.6" r="2.6" fill="none" stroke="#70ae70" stroke-width="1"/>
<circle cx="462.6" cy="395.8" r="2.6" fill="none" stroke="#70ae70" stroke-width="1"/>
<circle cx="465.2" cy="401.6" r="2.6" fill="none" stroke="#70ae70" stroke-width="1"/>
<circle cx="468.3" cy="405.2" r="2.6" fill="none" stroke="#70ae70" stroke-width="1"/>
<circle cx="471.5" cy="406.6" r="2.6" fill="none" stroke="#70ae70" stroke-width="1"/>
<circle cx="474.6" cy="407.0" r="2.6" fill="none" stroke="#70ae70" stroke-width="1"/>
<circle cx="478.2" cy="404.3" r="2.6" fill="none" stroke="#70ae70" stroke-width="1"/>
<circle cx="481.4" cy="398.9" r="2.6" fill="none" stroke="#70ae70" stroke-width="1"/>
<circle cx="483.6" cy="395.3" r="2.6" fill="none" stroke="#70ae70" stroke-width="1"/>
<circle cx="486.3" cy="392.6" r="2.6" fill="none" stroke="#70ae70" stroke-width="1"/>
<circle cx="489.5" cy="390.4" r="2.6" fill="none" stroke="#70ae70" stroke-width="1"/>
<circle cx="493.1" cy="391.3" r="2.6" fill="none" stroke="#70ae70" stroke-width="1"/>
<circle cx="496.7" cy="394.4" r="2.6" fill="none" stroke="#70ae70" stroke-width="1"/>
<circle cx="500.3" cy="397.6" r="2.6" fill="none" stroke="#70ae70" stroke-width="1"/>
<circle cx="504.3" cy="400.3" r="2.6" fill="none" stroke="#70ae70" stroke-width="1"/>
<circle cx="507.5" cy="401.6" r="2.6" fill="none" stroke="#70ae70" stroke-width="1"/>
<circle cx="510.6" cy="402.5" r="2.6" fill="none" stroke="#70ae70" stroke-width="1"/>
<circle cx="514.3" cy="401.6" r="2.6" fill="none" stroke="#70ae70" stroke-width="1"/>
<circle cx="518.3" cy="400.3" r="2.6" fill="none" stroke="#70ae70" stroke-width="1"/>
<circle cx="522.3" cy="397.4" r="2.6" fill="none" stroke="#70ae70" stroke-width="1"/>
<circle cx="526.8" cy="396.3" r="2.6" fill="none" stroke="#70ae70" stroke-width="1"/>
<circle cx="531.9" cy="396.8" r="2.6" fill="none" stroke="#70ae70" stroke-width="1"/>
<circle cx="537.0" cy="397.4" r="2.6" fill="none" stroke="#70ae70" stroke-width="1"/>
<circle cx="540.9" cy="398.5" r="2.6" fill="none" stroke="#70ae70" stroke-width="1"/>
<circle cx="545.4" cy="399.1" r="2.6" fill="none" stroke="#70ae70" stroke-width="1"/>
<circle cx="550.5" cy="399.1" r="2.6" fill="none" stroke="#70ae70" stroke-width="1"/>
<circle cx="555.0" cy="399.1" r="2.6" fill="none" stroke="#70ae70" stroke-width="1"/>
<circle cx="558.4" cy="398.5" r="2.6" fill="none" stroke="#70ae70" stroke-width="1"/>
<circle cx="562.9" cy="398.5" r="2.6" fill="none" stroke="#70ae70" stroke-width="1"/>
<circle cx="567.9" cy="398.1" r="2.6" fill="none" stroke="#70ae70" stroke-width="1"/>
<circle cx="574.1" cy="397.7" r="2.6" fill="none" stroke="#70ae70" stroke-width="1"/>
<circle cx="579.2" cy="397.6" r="2.6" fill="none" stroke="#70ae70" stroke-width="1"/>
</g>
<rect x="380.6" y="264.0" width="249.9" height="201.7" fill="none" stroke="#333" stroke-width="1.1"/>
<line x1="380.6" y1="425.36" x2="384.40000000000003" y2="425.36" stroke="#333" stroke-width="1"/>
<line x1="380.6" y1="385.02" x2="384.40000000000003" y2="385.02" stroke="#333" stroke-width="1"/>
<line x1="380.6" y1="344.68" x2="384.40000000000003" y2="344.68" stroke="#333" stroke-width="1"/>
<line x1="380.6" y1="304.34" x2="384.40000000000003" y2="304.34" stroke="#333" stroke-width="1"/>
<line x1="463.90" y1="465.7" x2="463.90" y2="461.9" stroke="#333" stroke-width="1"/>
<line x1="547.20" y1="465.7" x2="547.20" y2="461.9" stroke="#333" stroke-width="1"/>
<text x="376.1" y="469.2" font-size="11.5" text-anchor="end">0</text>
<text x="376.1" y="428.6" font-size="11.5" text-anchor="end">0.6</text>
<text x="376.1" y="388.5" font-size="11.5" text-anchor="end">1.2</text>
<text x="376.1" y="348.0" font-size="11.5" text-anchor="end">1.8</text>
<text x="376.1" y="307.3" font-size="11.5" text-anchor="end">2.4</text>
<text x="376.1" y="267.6" font-size="11.5" text-anchor="end">3.0</text>
<text x="380.6" y="478.5" font-size="11.5" text-anchor="middle">0</text>
<text x="463.9" y="478.5" font-size="11.5" text-anchor="middle">5</text>
<text x="547.2" y="478.5" font-size="11.5" text-anchor="middle">10</text>
<text x="630.5" y="478.5" font-size="11.5" text-anchor="middle">15</text>
<text x="505.6" y="496.0" font-size="12.0" text-anchor="middle"><tspan font-style="italic" font-weight="bold">q</tspan> / Å<tspan font-size="6.8" dy="-4.3">−1</tspan></text>
<text transform="translate(352.3,366.7) rotate(-90)" font-size="11" text-anchor="middle"><tspan font-style="italic">S</tspan>(<tspan font-style="italic" font-weight="bold">q</tspan>)</text>
<text x="396.0" y="287.0" font-size="11.2">(d)</text>
<text x="462.7" y="313.2" font-size="11.5">S7</text>
<line x1="483.3" y1="308.5" x2="510.6" y2="308.5" stroke="#84b884" stroke-width="1.1"/>
<circle cx="497.4" cy="326.8" r="2.3" fill="none" stroke="#70ae70" stroke-width="0.9"/>
<text x="511.40" y="311.90" font-size="11.5"><tspan font-style="italic">S</tspan>(<tspan font-style="italic" font-weight="bold">q</tspan>)<tspan font-size="7.3" dy="2">DPMD</tspan><tspan dy="-2"> at 1200 K</tspan></text>
<text x="511.40" y="329.80" font-size="11.5"><tspan font-style="italic">S</tspan>(<tspan font-style="italic" font-weight="bold">q</tspan>)<tspan font-size="7" dy="2">Reference</tspan><tspan dy="-2"> at 953 K</tspan></text>
</svg></body></html>
